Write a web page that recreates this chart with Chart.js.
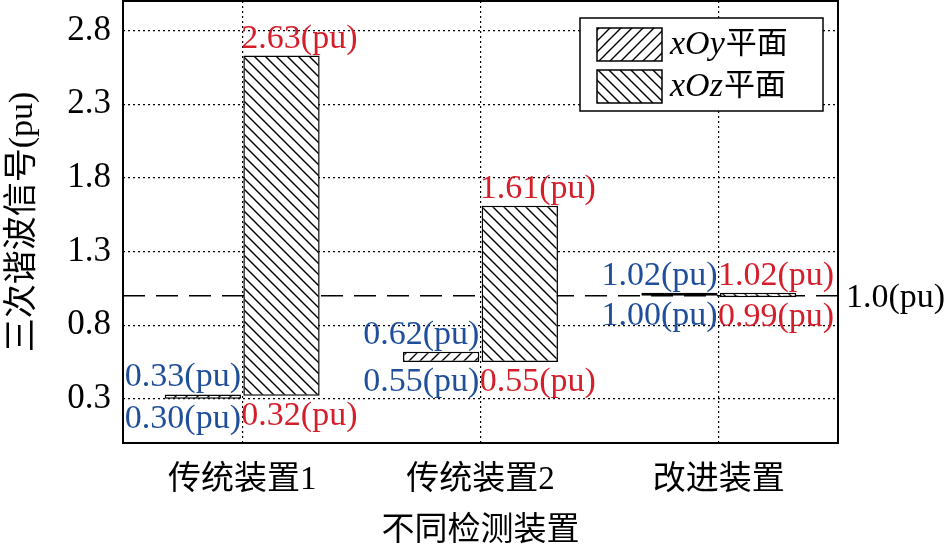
<!DOCTYPE html>
<html lang="zh">
<head>
<meta charset="UTF-8">
<title>三次谐波信号</title>
<script src="https://cdn.jsdelivr.net/npm/chart.js"></script>
<style>
    body { margin: 0; background: #fff; }
    #wrap { width: 948px; height: 548px; }
</style>
</head>
<body>
<div id="wrap"><canvas id="harmonicChart" width="948" height="548"></canvas></div>
<script>
    // data
    const devices = ['传统装置1', '传统装置2', '改进装置'];
    const xOyLow  = [0.30, 0.55, 1.00];
    const xOyHigh = [0.33, 0.62, 1.02];
    const xOzLow  = [0.32, 0.55, 0.99];
    const xOzHigh = [2.63, 1.61, 1.02];
    const yTicks  = [0.3, 0.8, 1.3, 1.8, 2.3, 2.8];
    const refLevel = 1.0;

    const FONT = "'Liberation Serif', 'Noto Sans CJK SC', serif";
    const BLUE = '#1f4e9a';
    const RED = '#d41f2b';

    function hatch(dir) {
        const s = 11;
        const c = document.createElement('canvas');
        c.width = s; c.height = s;
        const g = c.getContext('2d');
        g.fillStyle = '#fff';
        g.fillRect(0, 0, s, s);
        g.strokeStyle = '#000';
        g.lineWidth = 1.4;
        g.beginPath();
        if (dir === '/') {
            g.moveTo(-1, s + 1); g.lineTo(s + 1, -1);
            g.moveTo(-1, 1); g.lineTo(1, -1);
            g.moveTo(s - 1, s + 1); g.lineTo(s + 1, s - 1);
        } else {
            g.moveTo(-1, -1); g.lineTo(s + 1, s + 1);
            g.moveTo(-1, s - 1); g.lineTo(1, s + 1);
            g.moveTo(s - 1, -1); g.lineTo(s + 1, 1);
        }
        g.stroke();
        return g.createPattern(c, 'repeat');
    }
    const patY = hatch('/');
    const patZ = hatch('\\');

    const pairs = (lo, hi) => lo.map((v, i) => [v, hi[i]]);

    const frame = {
        id: 'frame',
        beforeDatasetsDraw(chart) {
            const { ctx, chartArea: a, scales: { y } } = chart;
            const py = y.getPixelForValue(refLevel);
            ctx.save();
            ctx.strokeStyle = '#000';
            ctx.lineWidth = 1.5;
            ctx.setLineDash([22, 11]);
            ctx.beginPath();
            ctx.moveTo(a.left, py);
            ctx.lineTo(a.right, py);
            ctx.stroke();
            ctx.restore();
        },
        afterDatasetsDraw(chart) {
            const { ctx, chartArea: a, scales: { y } } = chart;
            ctx.save();
            // value labels
            ctx.font = '34px ' + FONT;
            const lo = [xOyLow, xOzLow], hi = [xOyHigh, xOzHigh];
            [0, 1].forEach(d => {
                const meta = chart.getDatasetMeta(d);
                ctx.fillStyle = d === 0 ? BLUE : RED;
                meta.data.forEach((el, i) => {
                    const top = Math.min(el.y, el.base);
                    const bot = Math.max(el.y, el.base);
                    let x;
                    if (d === 0) { ctx.textAlign = 'right'; x = el.x + el.width / 2; }
                    else { ctx.textAlign = 'left'; x = el.x - el.width / 2 - 2; }
                    ctx.textBaseline = 'alphabetic';
                    ctx.fillText(hi[d][i].toFixed(2) + '(pu)', x, top - 8);
                    ctx.textBaseline = 'top';
                    ctx.fillText(lo[d][i].toFixed(2) + '(pu)', x, bot + 3);
                });
            });
            // reference label
            ctx.fillStyle = '#000';
            ctx.textAlign = 'left';
            ctx.textBaseline = 'middle';
            ctx.fillText(refLevel.toFixed(1) + '(pu)', a.right + 8, y.getPixelForValue(refLevel) + 2);
            // plot box
            ctx.lineWidth = 2;
            ctx.strokeStyle = '#000';
            ctx.strokeRect(a.left, a.top, a.right - a.left, a.bottom - a.top);
            // legend
            const lx = 580, ly = 18, lw = 243, lh = 93;
            ctx.fillStyle = '#fff';
            ctx.fillRect(lx, ly, lw, lh);
            ctx.lineWidth = 1.5;
            ctx.strokeRect(lx, ly, lw, lh);
            chart.data.datasets.forEach((ds, k) => {
                const sy = ly + 10 + k * 42;
                ctx.fillStyle = ds.backgroundColor;
                ctx.fillRect(lx + 17, sy, 65, 33);
                ctx.strokeRect(lx + 17, sy, 65, 33);
                const [it, rest] = ds.label.split('|');
                ctx.fillStyle = '#000';
                ctx.textBaseline = 'middle';
                ctx.font = 'italic 34px ' + FONT;
                ctx.fillText(it, lx + 90, sy + 17);
                const w = ctx.measureText(it).width;
                ctx.font = '31px ' + FONT;
                ctx.fillText(rest, lx + 90 + w + 1, sy + 17);
            });
            ctx.restore();
        }
    };

    new Chart(document.getElementById('harmonicChart'), {
        type: 'bar',
        data: {
            labels: devices,
            datasets: [
                { label: 'xOy|平面', data: pairs(xOyLow, xOyHigh), backgroundColor: patY,
                  borderColor: '#000', borderWidth: 1.5, borderSkipped: false },
                { label: 'xOz|平面', data: pairs(xOzLow, xOzHigh), backgroundColor: patZ,
                  borderColor: '#000', borderWidth: 1.5, borderSkipped: false }
            ]
        },
        options: {
            responsive: false,
            animation: false,
            devicePixelRatio: 1,
            layout: { padding: { top: 1, right: 110, left: 0, bottom: 0 } },
            categoryPercentage: 0.66,
            barPercentage: 0.97,
            plugins: { legend: { display: false }, tooltip: { enabled: false } },
            scales: {
                x: {
                    grid: { offset: false, color: '#000', lineWidth: 1.2, drawTicks: false },
                    border: { display: false, dash: [2, 3] },
                    ticks: { color: '#000', font: { family: FONT, size: 33 }, padding: 18 },
                    title: { display: true, text: '不同检测装置', color: '#000',
                             font: { family: FONT, size: 33, lineHeight: 1.0 }, padding: { top: 0, bottom: 0 } },
                    afterFit(s) { s.height = 105; s.paddingLeft = 0; s.paddingRight = 0; }
                },
                y: {
                    min: 0,
                    max: 3,
                    afterBuildTicks(s) { s.ticks = yTicks.map(v => ({ value: v })); },
                    grid: { color: '#000', lineWidth: 1.2, drawTicks: false },
                    border: { display: false, dash: [2, 3] },
                    ticks: { color: '#000', font: { family: FONT, size: 35 }, padding: 12,
                             callback: v => v.toFixed(1) },
                    title: { display: true, text: '三次谐波信号(pu)', color: '#000',
                             font: { family: FONT, size: 34 }, padding: { top: 3, bottom: 0 } },
                    afterFit(s) { s.width = 123; s.paddingTop = 0; s.paddingBottom = 0; }
                }
            }
        },
        plugins: [frame]
    });
</script>
</body>
</html>
